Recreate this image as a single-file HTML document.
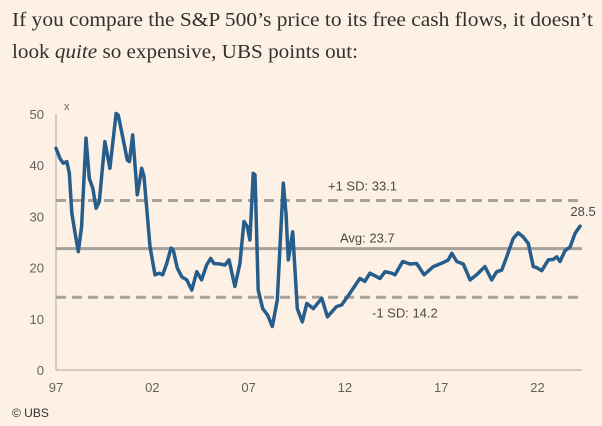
<!DOCTYPE html>
<html><head><meta charset="utf-8"><style>
html,body{margin:0;padding:0;background:#fdf1e5;}
svg{display:block;font-family:"Liberation Sans",sans-serif;}
</style></head><body>
<svg id="c" width="602" height="426" viewBox="0 0 602 426">
<rect width="602" height="426" fill="#fdf1e5"/>
<text x="12" y="26" font-family="Liberation Serif, serif" font-size="20" fill="#33302e" textLength="581" lengthAdjust="spacingAndGlyphs">If you compare the S&amp;P 500’s price to its free cash flows, it doesn’t</text>
<text x="12" y="58" font-family="Liberation Serif, serif" font-size="20" fill="#33302e" textLength="346" lengthAdjust="spacingAndGlyphs">look <tspan font-style="italic">quite</tspan> so expensive, UBS points out:</text>
<g id="axes"></g>
<g id="plot"></g>
<text x="12" y="417" font-size="12" fill="#33302e">© UBS</text>
</svg>
<script>
const years=[0,.21,.38,.56,.69,.82,.99,1.16,1.33,1.56,1.73,1.91,2.08,2.25,2.54,2.80,3.12,3.23,3.46,3.70,3.81,3.98,4.22,4.45,4.57,4.88,5.14,5.36,5.54,5.75,5.97,6.09,6.30,6.53,6.79,7.05,7.31,7.56,7.82,8.03,8.20,8.52,8.77,8.98,9.29,9.55,9.76,9.93,10.07,10.24,10.33,10.50,10.73,10.99,11.23,11.49,11.63,11.80,11.94,12.06,12.29,12.53,12.79,13.02,13.36,13.80,14.09,14.57,14.83,15.26,15.78,16.04,16.30,16.82,17.08,17.43,17.60,18.00,18.38,18.73,19.11,19.59,20.11,20.37,20.55,20.81,21.15,21.50,21.84,22.27,22.62,22.88,23.14,23.40,23.74,24.00,24.26,24.52,24.78,24.96,25.22,25.56,25.82,26.00,26.17,26.43,26.69,26.95,27.21];
const values=[43.3,41.3,40.4,40.7,38.5,30.7,26.7,23.1,28,45.3,37.4,35.5,31.6,32.9,44.6,39.4,50.1,49.8,45.6,41,40.7,45.9,34.2,39.4,37.8,24.1,18.6,18.9,18.6,20.8,23.8,23.4,19.9,18.2,17.6,15.6,19.2,17.6,20.5,21.8,20.8,20.7,20.5,21.5,16.3,20.8,29,28,25.4,38.4,38.1,15.6,12,10.7,8.5,13.7,24.1,36.5,30.6,21.5,27,12,9.4,13,12,14,10.4,12.4,12.7,15,17.9,17.3,18.9,17.9,19.2,18.9,18.6,21.2,20.7,20.8,18.6,20.2,21,21.5,22.8,21.2,20.7,17.6,18.6,20.2,17.6,19.2,19.5,22.1,25.7,26.8,26,24.7,20.2,20,19.4,21.5,21.6,22.1,21.2,23.3,24,26.7,28.1];
const yTicks=[0,10,20,30,40,50];
const xTickYears=[0,5,10,15,20,25];
const xTickLabels=["97","02","07","12","17","22"];
const refValues=[33.1,23.7,14.2];
const refLabels=["+1 SD: 33.1","Avg: 23.7","-1 SD: 14.2"];
const lastLabel="28.5";

const NS="http://www.w3.org/2000/svg";
const X=t=>56+t*19.26;
const Y=v=>370-v*5.12;
function mk(tag,attrs,parent,text){const e=document.createElementNS(NS,tag);for(const k in attrs)e.setAttribute(k,attrs[k]);if(text!==undefined)e.textContent=text;parent.appendChild(e);return e;}
const ax=document.getElementById('axes'),pl=document.getElementById('plot');

yTicks.forEach(v=>{
  const t=mk('text',{x:44,y:Y(v)+5,'text-anchor':'end','font-size':13,fill:'#66605c'},ax,String(v));
  
  
});
const ux=mk('text',{x:64,y:110,'font-size':11,fill:'#66605c'},ax,'x');


xTickYears.forEach((t,i)=>{
  const e=mk('text',{x:X(t),y:392,'text-anchor':'middle','font-size':13,fill:'#66605c'},ax,xTickLabels[i]);
  
  
});
const ya=mk('line',{x1:56,y1:Y(50),x2:56,y2:Y(0),stroke:'#bcb4ab','stroke-width':1.2},ax);


const xa=mk('line',{x1:56,y1:Y(0),x2:582,y2:Y(0),stroke:'#bcb4ab','stroke-width':1.2},ax);



const refNames=['plus-1-sd-line','average-line','minus-1-sd-line'];
const labelPos=[[328,Y(refValues[0])-10],[340,Y(refValues[1])-6],[372,Y(refValues[2])+20]];
refValues.forEach((v,i)=>{
  const attrs={x1:56,y1:Y(v),x2:582,y2:Y(v),stroke:'#a7a19b','stroke-width':3};
  if(i!==1)attrs['stroke-dasharray']='10 6';
  const l=mk('line',attrs,pl);
  
  
  const t=mk('text',{x:labelPos[i][0],y:labelPos[i][1],'font-size':13,fill:'#4d4845'},pl,refLabels[i]);
  
  
});

const d=years.map((t,i)=>(i?'L':'M')+X(t).toFixed(1)+' '+Y(values[i]).toFixed(1)).join(' ');
const p=mk('path',{d:d,fill:'none',stroke:'#275d8b','stroke-width':3.5,'stroke-linejoin':'round','stroke-linecap':'round'},pl);


const n=years.length-1;
const ll=mk('text',{x:X(years[n])+3,y:Y(values[n])-10,'text-anchor':'middle','font-size':13,fill:'#4d4845'},pl,lastLabel);


</script>
</body></html>
